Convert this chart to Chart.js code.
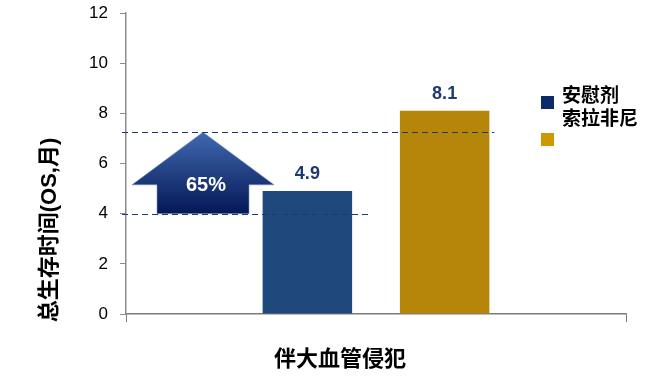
<!DOCTYPE html>
<html>
<head>
<meta charset="utf-8">
<script src="https://cdn.jsdelivr.net/npm/chart.js@4"></script>
<style>
  html, body { margin: 0; padding: 0; background: #fff; }
  .chart-container { width: 653px; height: 377px; position: relative; }
</style>
</head>
<body>
<div class="chart-container">
  <canvas id="chart"></canvas>
</div>
<script>
// data
const categories = ['伴大血管侵犯'];
const seriesNames = ['安慰剂', '索拉非尼'];
const placeboOS = [4.9];
const sorafenibOS = [8.1];
const yTicks = [0, 2, 4, 6, 8, 10, 12];
const refLevels = [4.0, 7.25];      // dashed guide lines
const arrowShoulder = 5.15;         // where the arrow head starts
const gainLabel = '65%';
const yTitle = '总生存时间(OS,月)';

const CJK = '"Liberation Sans", Arial, "Noto Sans CJK SC", sans-serif';

const overlay = {
  id: 'overlay',
  afterDatasetsDraw(chart) {
    const ctx = chart.ctx;
    const y = chart.scales.y;
    const area = chart.chartArea;
    const blue = chart.getDatasetMeta(0).data[0];
    const gold = chart.getDatasetMeta(1).data[0];

    // arrow
    const yTop = y.getPixelForValue(refLevels[1]);
    const yBot = y.getPixelForValue(refLevels[0]);
    const yShoulder = y.getPixelForValue(arrowShoulder);
    const L = area.left;
    ctx.save();
    const grad = ctx.createLinearGradient(0, yTop, 0, yBot);
    grad.addColorStop(0, '#4069b0');
    grad.addColorStop(1, '#041855');
    ctx.fillStyle = grad;
    ctx.beginPath();
    ctx.moveTo(L + 77, yTop);
    ctx.lineTo(L + 148, yShoulder);
    ctx.lineTo(L + 123, yShoulder);
    ctx.lineTo(L + 123, yBot);
    ctx.lineTo(L + 31, yBot);
    ctx.lineTo(L + 31, yShoulder);
    ctx.lineTo(L + 6, yShoulder);
    ctx.closePath();
    ctx.fill();
    ctx.strokeStyle = 'rgba(120,150,200,0.6)';
    ctx.lineWidth = 1;
    ctx.stroke();
    ctx.fillStyle = '#fff';
    ctx.font = 'bold 20px ' + CJK;
    ctx.textAlign = 'center';
    ctx.textBaseline = 'middle';
    ctx.fillText(gainLabel, L + 80, yShoulder + 1);
    ctx.restore();

    // dashed guides
    ctx.save();
    ctx.strokeStyle = '#1f3a73';
    ctx.lineWidth = 1;
    ctx.setLineDash([6, 4]);
    ctx.beginPath();
    ctx.moveTo(L - 4, Math.round(yBot) + 0.5);
    ctx.lineTo(blue.x + blue.width / 2 + 18, Math.round(yBot) + 0.5);
    ctx.moveTo(L - 4, Math.round(yTop) + 0.5);
    ctx.lineTo(gold.x + gold.width / 2 + 5, Math.round(yTop) + 0.5);
    ctx.stroke();
    ctx.restore();

    // value labels
    ctx.save();
    ctx.font = 'bold 18px ' + CJK;
    ctx.fillStyle = '#1f3a6e';
    ctx.textAlign = 'center';
    ctx.textBaseline = 'middle';
    chart.data.datasets.forEach((ds, i) => {
      const bar = chart.getDatasetMeta(i).data[0];
      ctx.fillText(ds.data[0].toFixed(1), bar.x, bar.y - 17);
    });
    ctx.restore();

    // legend (squares and labels sit a bit apart, as in the source)
    ctx.save();
    const legendColors = ['#0c2a6a', '#cc9900'];
    const sqX = area.right - 85;
    ctx.fillStyle = legendColors[0];
    ctx.fillRect(sqX, 96, 13, 13);
    ctx.fillStyle = legendColors[1];
    ctx.fillRect(sqX, 133, 13, 13);
    ctx.fillStyle = '#000';
    ctx.font = 'bold 19px ' + CJK;
    ctx.textAlign = 'left';
    ctx.textBaseline = 'middle';
    ctx.fillText(seriesNames[0], sqX + 21, 97);
    ctx.fillText(seriesNames[1], sqX + 21, 120);
    ctx.restore();

    // axis titles
    ctx.save();
    ctx.fillStyle = '#000';
    ctx.font = 'bold 22px ' + CJK;
    ctx.textAlign = 'center';
    ctx.textBaseline = 'middle';
    ctx.fillText(categories[0], 340, 360);
    ctx.translate(50, 230);
    ctx.rotate(-Math.PI / 2);
    ctx.fillText(yTitle, 0, 0);
    ctx.restore();
  }
};

new Chart(document.getElementById('chart').getContext('2d'), {
  type: 'bar',
  data: {
    labels: categories,
    datasets: [{
      label: seriesNames[0],
      data: placeboOS,
      backgroundColor: '#1f497d',
      barPercentage: 0.652,
      categoryPercentage: 0.549
    }, {
      label: seriesNames[1],
      data: sorafenibOS,
      backgroundColor: '#b5860a',
      barPercentage: 0.652,
      categoryPercentage: 0.549
    }]
  },
  options: {
    responsive: true,
    maintainAspectRatio: false,
    animation: false,
    layout: { padding: { top: 13, right: 27, bottom: 0, left: 0 } },
    plugins: {
      legend: { display: false },
      tooltip: { enabled: false }
    },
    scales: {
      x: {
        ticks: { display: false },
        grid: { drawOnChartArea: false, tickLength: 8, color: '#7a7a7a', offset: true },
        border: { color: '#7a7a7a', width: 1.5 },
        afterFit(s) { s.height = 63; }
      },
      y: {
        min: 0,
        max: 12,
        afterBuildTicks(s) { s.ticks = yTicks.map(v => ({ value: v })); },
        ticks: { color: '#000', font: { size: 17, family: '"Liberation Sans", Arial' }, padding: 12 },
        grid: { drawOnChartArea: false, tickLength: 6, color: '#8c8c8c' },
        border: { color: '#8c8c8c', width: 1.5 },
        afterFit(s) { s.width = 126; s.paddingTop = 0; s.paddingBottom = 0; }
      }
    }
  },
  plugins: [overlay]
});
</script>
</body>
</html>
